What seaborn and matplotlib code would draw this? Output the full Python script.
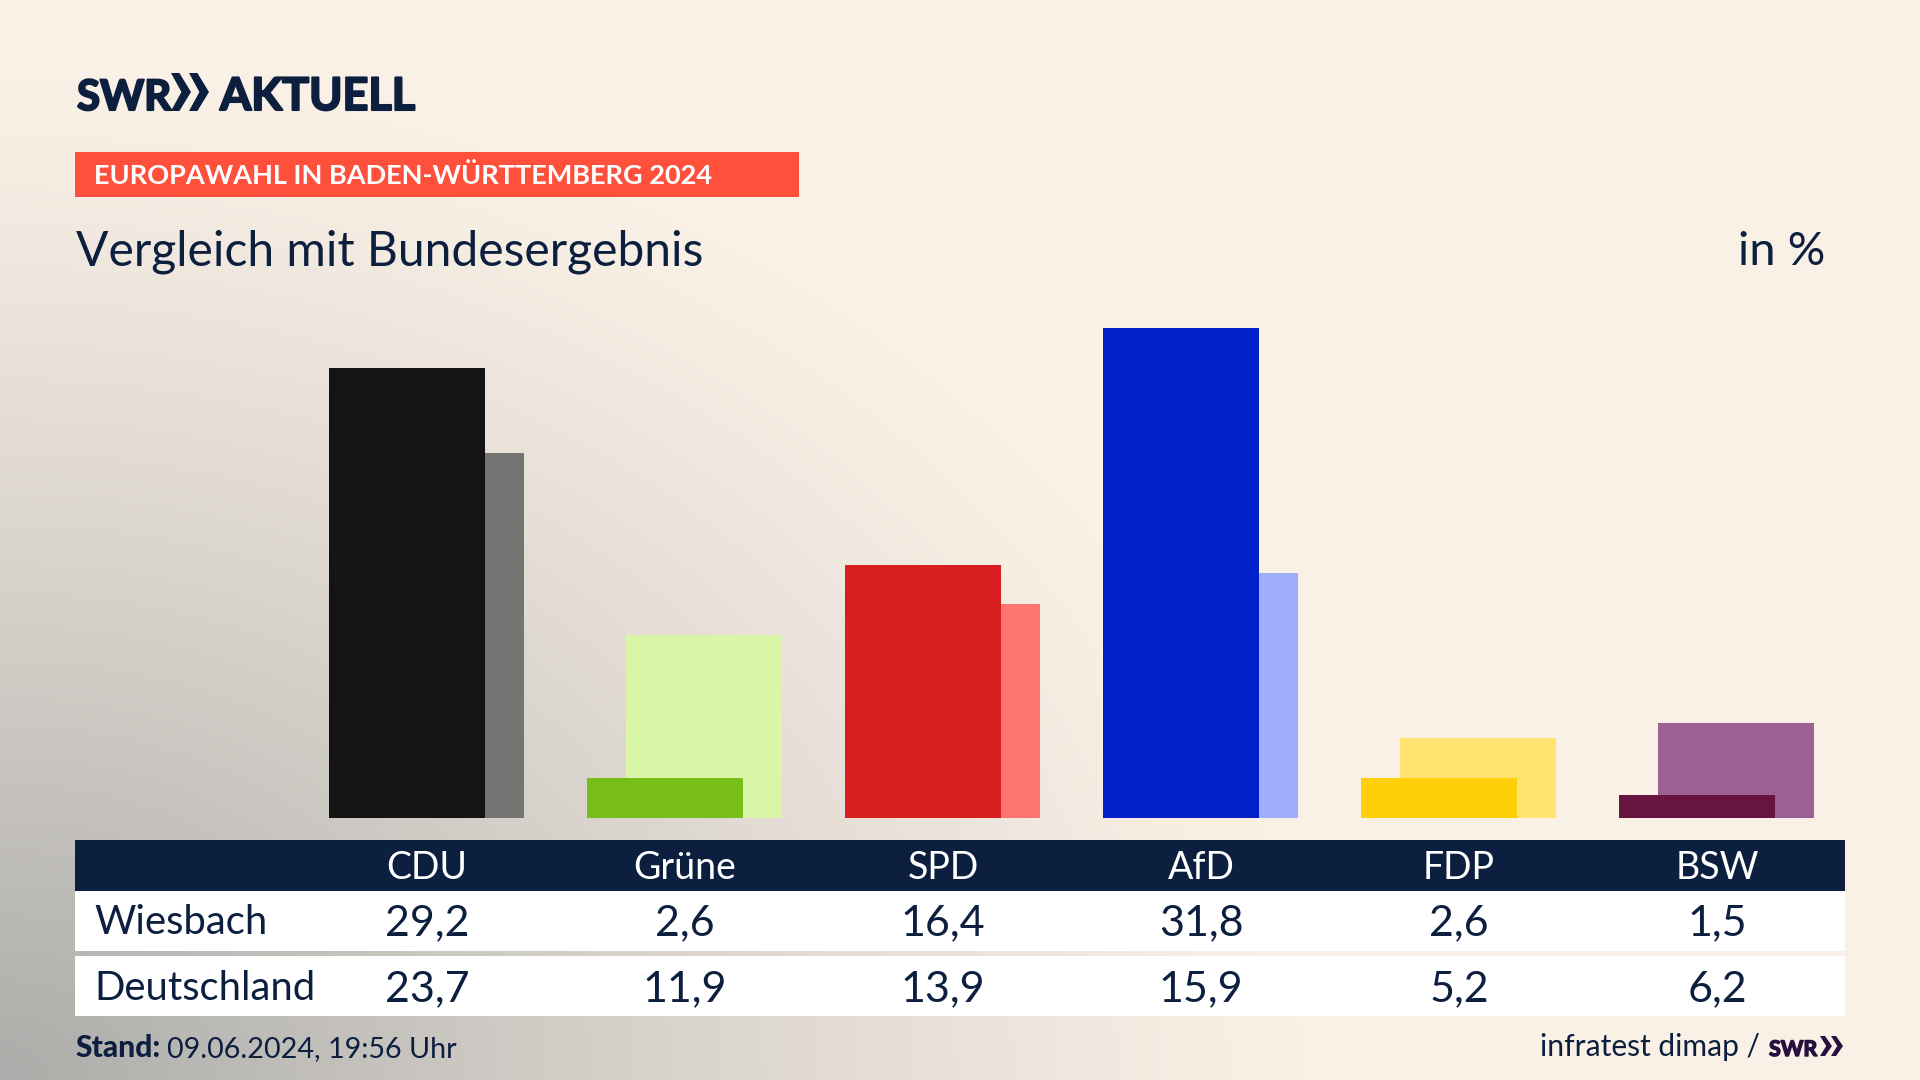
import numpy as np
import pandas as pd
import matplotlib
matplotlib.use("Agg")
import matplotlib.pyplot as plt
import matplotlib.patheffects as pe
from matplotlib.patches import Rectangle, Polygon
from matplotlib.colors import to_rgb
import seaborn as sns

categories = ["CDU", "Grüne", "SPD", "AfD", "FDP", "BSW"]
wiesbach = [29.2, 2.6, 16.4, 31.8, 2.6, 1.5]
deutschland = [23.7, 11.9, 13.9, 15.9, 5.2, 6.2]
front_colors = ["#141414", "#78BE18", "#D81F1F", "#0020C8", "#FFCF0A", "#66153F"]
back_colors = ["#747472", "#D8F5A8", "#FF7570", "#9FAEFF", "#FFE270", "#9C5F96"]
row_labels = ["Wiesbach", "Deutschland"]

NAVY = "#0C1F3F"
W, H = 1920, 1080
FONT = "Lato"

sns.set_theme(style="white")
plt.rcParams["font.family"] = [FONT, "DejaVu Sans"]
fig = plt.figure(figsize=(19.2, 10.8), dpi=100)


def fx(x):
    return x / W


def fy(y):
    return 1 - y / H


def pt(px):
    return px * 0.72


def put(x, y, s, size, color=NAVY, weight="normal", ha="left", stroke=0):
    t = fig.text(fx(x), fy(y), s, fontsize=pt(size), color=color,
                 fontweight=weight, ha=ha, va="baseline", zorder=5)
    if stroke:
        t.set_path_effects([pe.withStroke(linewidth=stroke, foreground=color)])
    return t


def box(x0, y0, x1, y1, color):
    fig.add_artist(Rectangle((fx(x0), fy(y1)), (x1 - x0) / W, (y1 - y0) / H,
                             transform=fig.transFigure, facecolor=color,
                             edgecolor="none", zorder=2))


def chevron(x0, y0, w, h, color):
    pts = [(x0, y0), (x0 + w * 0.42, y0), (x0 + w, y0 + h / 2),
           (x0 + w * 0.42, y0 + h), (x0, y0 + h), (x0 + w * 0.52, y0 + h / 2)]
    fig.add_artist(Polygon([(fx(a), fy(b)) for a, b in pts],
                           transform=fig.transFigure, facecolor=color,
                           edgecolor="none", zorder=5))


# background gradient
bg = fig.add_axes([0, 0, 1, 1], zorder=0)
yy, xx = np.mgrid[0:H:270j, 0:W:480j]
r = np.sqrt((xx / 1300) ** 2 + ((H - yy) / 1000) ** 2)
t = np.clip(1 - r, 0, 1) ** 1.15
cream = np.array(to_rgb("#FAF1E6"))
grey = np.array(to_rgb("#ACACAA"))
img = cream[None, None, :] * (1 - t[..., None]) + grey[None, None, :] * t[..., None]
bg.imshow(img, extent=(0, W, H, 0), aspect="auto", interpolation="bilinear")
bg.axis("off")

# bars
AX_L, AX_R, AX_T, AX_B = 75, 1845, 290, 818
ORIGIN = 426.9
ax = fig.add_axes([fx(AX_L), fy(AX_B), (AX_R - AX_L) / W, (AX_B - AX_T) / H], zorder=1)
ax.patch.set_alpha(0)
pos = np.arange(len(categories))
shift = 19.5 / 258
df_back = pd.DataFrame({"x": pos + shift, "v": deutschland, "p": categories})
df_front = pd.DataFrame({"x": pos - shift, "v": wiesbach, "p": categories})
sns.barplot(data=df_back, x="x", y="v", hue="p", palette=back_colors, hue_order=categories,
            native_scale=True, dodge=False, width=156 / 258, saturation=1, linewidth=0,
            legend=False, ax=ax, zorder=1)
sns.barplot(data=df_front, x="x", y="v", hue="p", palette=front_colors, hue_order=categories,
            native_scale=True, dodge=False, width=156 / 258, saturation=1, linewidth=0,
            legend=False, ax=ax, zorder=2)
ax.set_xlim((AX_L - ORIGIN) / 258, (AX_R - ORIGIN) / 258)
ax.set_ylim(0, (AX_B - AX_T) / 15.4)
ax.axis("off")

# header
put(77, 110, "SWR", 42, weight="bold", stroke=1.5)
chevron(171, 73, 20, 38, NAVY)
chevron(189, 73, 20, 38, NAVY)
put(220, 110, "AKTUELL", 45, weight="bold", stroke=1.5)
box(75, 152, 799, 197, "#FF503C")
put(94, 184, "EUROPAWAHL IN BADEN-WÜRTTEMBERG 2024", 27.1, color="white", weight="bold")
put(76, 265, "Vergleich mit Bundesergebnis", 48)
put(1825, 265, "in %", 47, ha="right")

# table
box(75, 840, 1845, 891, NAVY)
box(75, 891, 1845, 951, "white")
box(75, 956, 1845, 1016, "white")
for i, cat in enumerate(categories):
    cx = 427 + 258 * i
    put(cx, 879, cat, 37.5, color="white", ha="center")
    put(cx, 935, f"{wiesbach[i]:.1f}".replace(".", ","), 43, ha="center")
    put(cx, 1001, f"{deutschland[i]:.1f}".replace(".", ","), 43, ha="center")
put(94, 934, row_labels[0], 40)
put(94, 1000, row_labels[1], 40)

# footer
put(75, 1057, "Stand:", 30, weight="black")
put(167, 1057, "09.06.2024, 19:56 Uhr", 28.8)
put(1760, 1056, "infratest dimap /", 30, ha="right")
put(1769, 1056, "SWR", 21.5, color="#27103F", weight="bold", stroke=1)
chevron(1820, 1036, 12, 20, "#27103F")
chevron(1831, 1036, 12, 20, "#27103F")

fig.savefig("out.png", dpi=100)
